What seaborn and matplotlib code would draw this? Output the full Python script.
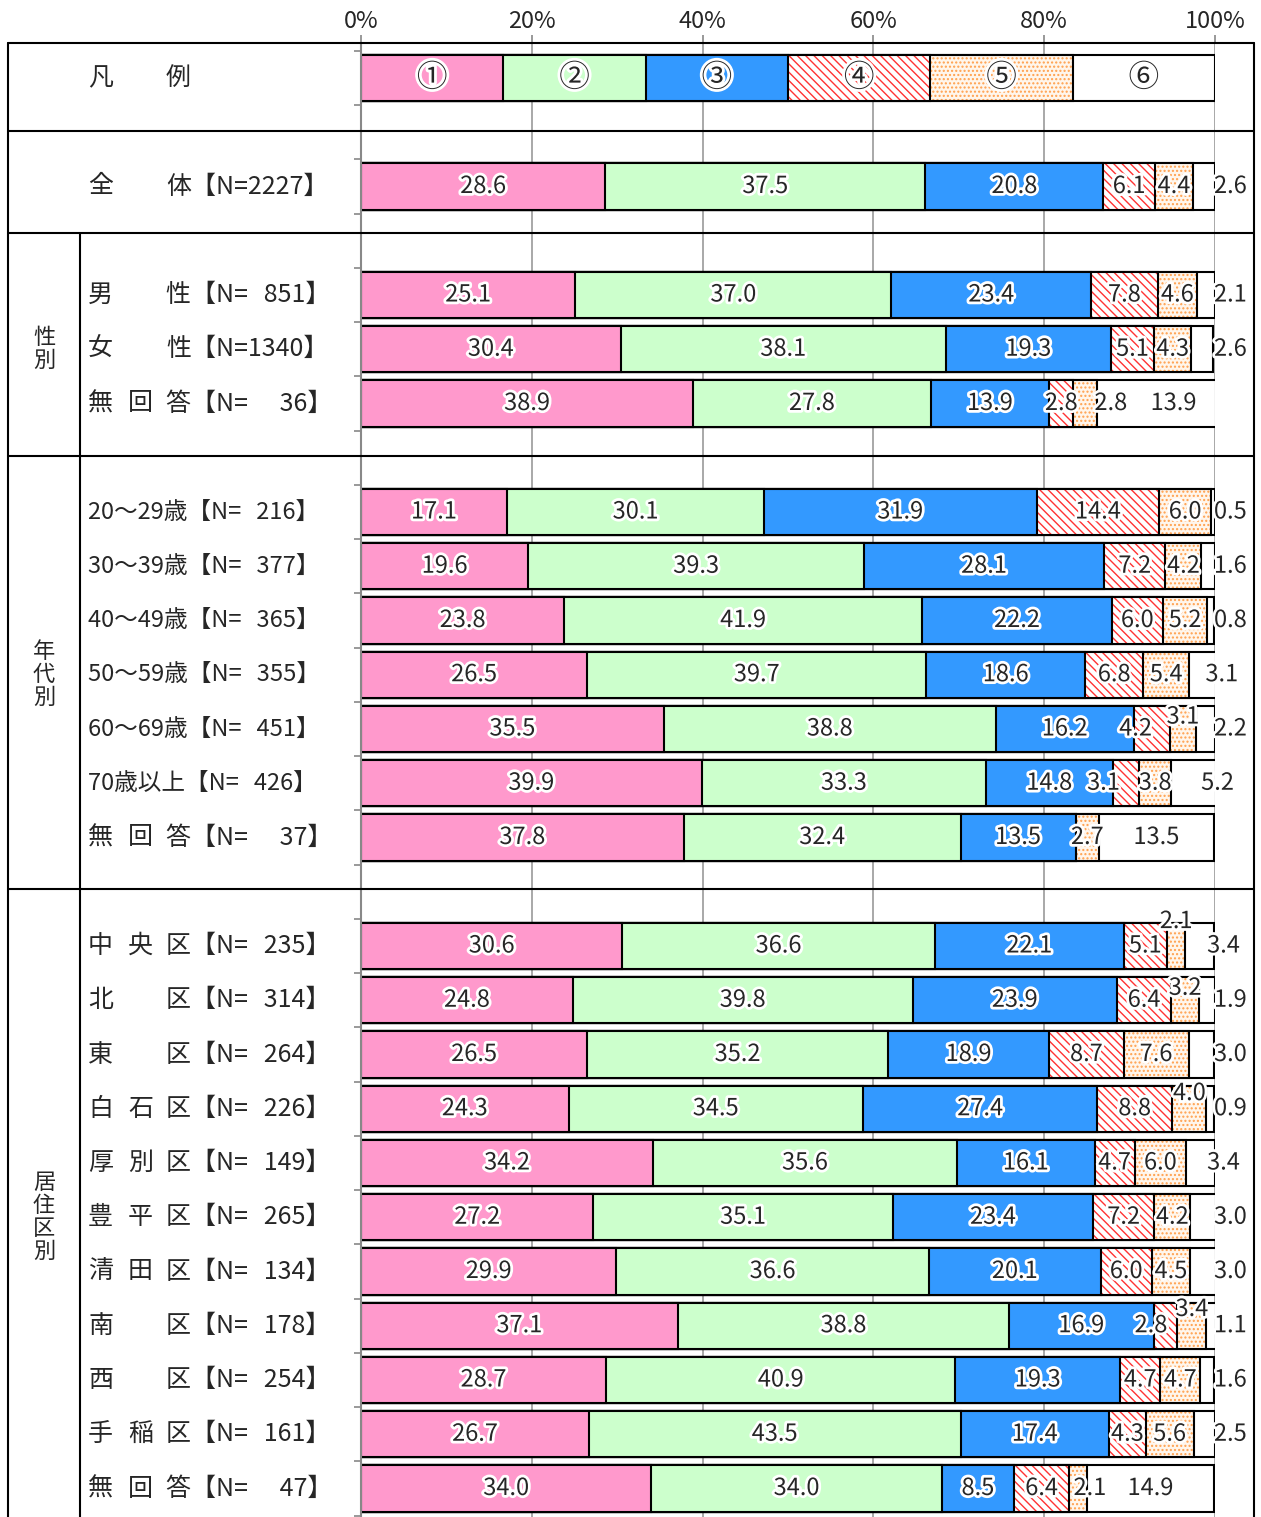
import matplotlib
matplotlib.use('Agg')
import matplotlib.pyplot as plt
import matplotlib.patheffects as pe
import matplotlib.transforms as mtransforms
from matplotlib.lines import Line2D
import pandas as pd
import seaborn as sns

W, H = 1261, 1517

# ---- data ----
legend_marks = ['①', '②', '③', '④', '⑤', '⑥']

total_name = '全体'
total_n = 2227
total_vals = [28.6, 37.5, 20.8, 6.1, 4.4, 2.6]

sex_names = ['男性', '女性', '無回答']
sex_n = [851, 1340, 36]
sex_vals = [
    [25.1, 37.0, 23.4, 7.8, 4.6, 2.1],
    [30.4, 38.1, 19.3, 5.1, 4.3, 2.6],
    [38.9, 27.8, 13.9, 2.8, 2.8, 13.9],
]

age_names = ['20～29歳', '30～39歳', '40～49歳', '50～59歳', '60～69歳', '70歳以上', '無回答']
age_n = [216, 377, 365, 355, 451, 426, 37]
age_vals = [
    [17.1, 30.1, 31.9, 14.4, 6.0, 0.5],
    [19.6, 39.3, 28.1, 7.2, 4.2, 1.6],
    [23.8, 41.9, 22.2, 6.0, 5.2, 0.8],
    [26.5, 39.7, 18.6, 6.8, 5.4, 3.1],
    [35.5, 38.8, 16.2, 4.2, 3.1, 2.2],
    [39.9, 33.3, 14.8, 3.1, 3.8, 5.2],
    [37.8, 32.4, 13.5, 0.0, 2.7, 13.5],
]

ward_names = ['中央区', '北区', '東区', '白石区', '厚別区', '豊平区', '清田区', '南区', '西区', '手稲区', '無回答']
ward_n = [235, 314, 264, 226, 149, 265, 134, 178, 254, 161, 47]
ward_vals = [
    [30.6, 36.6, 22.1, 5.1, 2.1, 3.4],
    [24.8, 39.8, 23.9, 6.4, 3.2, 1.9],
    [26.5, 35.2, 18.9, 8.7, 7.6, 3.0],
    [24.3, 34.5, 27.4, 8.8, 4.0, 0.9],
    [34.2, 35.6, 16.1, 4.7, 6.0, 3.4],
    [27.2, 35.1, 23.4, 7.2, 4.2, 3.0],
    [29.9, 36.6, 20.1, 6.0, 4.5, 3.0],
    [37.1, 38.8, 16.9, 2.8, 3.4, 1.1],
    [28.7, 40.9, 19.3, 4.7, 4.7, 1.6],
    [26.7, 43.5, 17.4, 4.3, 5.6, 2.5],
    [34.0, 34.0, 8.5, 6.4, 2.1, 14.9],
]

groups = [('性別', sex_names, sex_n, sex_vals, 'sex'),
          ('年代別', age_names, age_n, age_vals, 'age'),
          ('居住区別', ward_names, ward_n, ward_vals, 'ward')]

# label nudges (x in %, y in rows) for crowded small segments
nudges = {
    ('sex2', 5): (3.0, 0), ('sex2', 6): (2.0, 0),
    ('age3', 6): (-1.0, 0),
    ('age4', 4): (-1.9, 0), ('age4', 5): (0, -0.22),
    ('age5', 4): (-2.6, 0), ('age5', 6): (-1.5, 0),
    ('ward0', 5): (0, -0.45), ('ward0', 6): (-0.8, 0), ('ward1', 5): (0, -0.22),
    ('ward3', 5): (0, -0.28), ('ward4', 6): (-0.8, 0), ('ward7', 4): (-1.7, 0),
    ('ward7', 5): (0, -0.3), ('ward10', 5): (1.4, 0),
}

# ---- build rows ----
order = ['legend', 'gap0', 'total', 'gap1']
rows = [('total', total_name, total_n, total_vals)]
group_slots = []
for gi, (gname, names, ns, vals, key) in enumerate(groups):
    start = len(order)
    for i, (nm, n, v) in enumerate(zip(names, ns, vals)):
        order.append(f'{key}{i}')
        rows.append((f'{key}{i}', nm, n, v))
    group_slots.append((gname, start, len(order) - 1))
    if gi < len(groups) - 1:
        order.append(f'gap{gi + 2}')

recs = []
for key, nm, n, v in [('legend', '', 0, [100 / 6] * 6)] + rows:
    c = 0
    for s, val in enumerate(v, start=1):
        c += val
        recs.append(dict(key=key, seg=s, value=val, cum=c))
df = pd.DataFrame(recs)

# ---- figure ----
sns.set_style('white')
plt.rcParams['font.family'] = ['Noto Sans CJK JP', 'DejaVu Sans']
plt.rcParams['hatch.linewidth'] = 1.0

fig = plt.figure(figsize=(W / 100, H / 100), dpi=100)
ax = fig.add_axes([361 / W, 0, 854 / W, (H - 43) / H])

seg_colors = {1: '#FF99CC', 2: '#CCFFCC', 3: '#3399FF', 6: 'white'}
bar_kw = dict(y='key', x='cum', order=order, orient='h', width=0.85,
              saturation=1, errorbar=None, ax=ax)

for s in [6, 5, 4, 3, 2, 1]:
    d = df[df.seg == s]
    if s in (4, 5):
        if s == 4:
            sns.barplot(data=d, color='white', edgecolor='#FF3333',
                        hatch='\\\\\\\\', linewidth=0, **bar_kw)
        else:
            sns.barplot(data=d, color='#FFF6EC', edgecolor='#FFA04D',
                        hatch='....', linewidth=0, **bar_kw)
        sns.barplot(data=d, fill=False, color='black', linewidth=1.5, **bar_kw)
    else:
        sns.barplot(data=d, color=seg_colors[s], edgecolor='black',
                    linewidth=1.5, **bar_kw)

ax.set_xlim(0, 100)
ax.set_ylim((H - 78) / 54.25, -35 / 54.25)
ax.set_xlabel('')
ax.set_ylabel('')

ax.xaxis.tick_top()
ax.set_xticks([0, 20, 40, 60, 80, 100])
ax.set_xticklabels(['0%', '20%', '40%', '60%', '80%', '100%'])
ax.tick_params(axis='x', top=True, length=6, width=1.2, color='#888888',
               labelsize=17, pad=1)
ax.set_yticks([i - 0.5 for i in range(len(order) + 1)])
ax.set_yticklabels([])
ax.tick_params(axis='y', left=True, length=5, width=1.2, color='#888888')
ax.grid(axis='x', color='#999999', linewidth=1.2)
ax.set_axisbelow(True)
for sp in ['top', 'right', 'bottom']:
    ax.spines[sp].set_visible(False)
ax.spines['left'].set_color('#888888')
ax.spines['left'].set_linewidth(1.5)

halo = [pe.withStroke(linewidth=4, foreground='white')]
slot = {k: i for i, k in enumerate(order)}

# legend marks
for i, m in enumerate(legend_marks):
    ax.text(100 / 6 * (i + 0.5), slot['legend'], m, ha='center', va='center',
            fontsize=22, path_effects=halo)

# value labels
for key, nm, n, v in rows:
    c = 0
    for s, val in enumerate(v, start=1):
        c += val
        if val <= 0:
            continue
        x = c - val / 2
        if s == 6 and val < 6:
            x = 101.8
        dx, dy = nudges.get((key, s), (0, 0))
        ax.text(x + dx, slot[key] + dy, f'{val:.1f}', ha='center', va='center',
                fontsize=17, path_effects=halo, clip_on=False, zorder=5)

# row labels
tr = mtransforms.blended_transform_factory(fig.transFigure, ax.transData)
txt_kw = dict(transform=tr, va='center', ha='left', clip_on=False)


def n_part(n):
    # right-aligned count, padded with figure spaces
    return '【N=' + f'{n:>4}'.replace(' ', '\u2007') + '】'


def draw_name(name, y, n=None):
    tail = n_part(n) if n is not None else ''
    if len(name) in (2, 3) and all(ord(ch) > 0x3000 for ch in name):
        xs = [88, 166] if len(name) == 2 else [88, 128, 166]
        for ch, xp in zip(name[:-1], xs[:-1]):
            ax.text(xp / W, y, ch, fontsize=18, **txt_kw)
        ax.text(xs[-1] / W, y, name[-1] + tail, fontsize=18, **txt_kw)
    else:
        ax.text(88 / W, y, name + tail, fontsize=17, **txt_kw)


draw_name('凡例', slot['legend'])
for key, nm, n, v in rows:
    draw_name(nm, slot[key], n)

for gname, a, b in group_slots:
    ax.text(44 / W, (a + b) / 2, '\n'.join(gname), ha='center', va='center',
            transform=tr, fontsize=16, linespacing=1.0, clip_on=False)

# table frame
def fline(x0, y0, x1, y1):
    fig.add_artist(Line2D([x0 / W, x1 / W], [1 - y0 / H, 1 - y1 / H],
                          color='black', linewidth=1.5, transform=fig.transFigure))


for yy in [43, 131, 233, 456, 889]:
    fline(8, yy, 1254, yy)
fline(8, 43, 8, H)
fline(1254, 43, 1254, H)
fline(80, 233, 80, H)

fig.savefig('out.png', dpi=100)
